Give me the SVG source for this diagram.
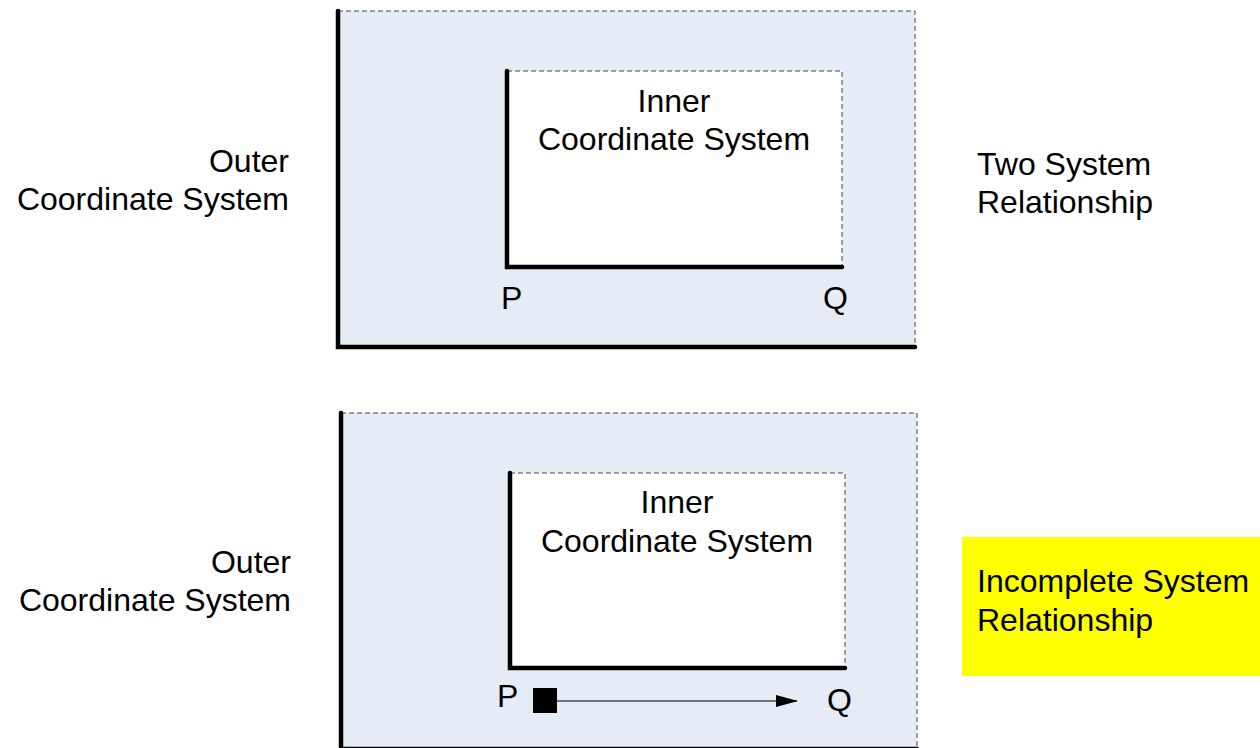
<svg xmlns="http://www.w3.org/2000/svg" width="1260" height="748" viewBox="0 0 1260 748">
<style>
.bg{fill:#e5ecf6;stroke:none}
.in{fill:#ffffff;stroke:none}
.dash{fill:none;stroke:#444;stroke-width:1;stroke-dasharray:5 3}
.axis{fill:none;stroke:#000;stroke-width:4.5;stroke-linecap:round;stroke-linejoin:miter}
.t{font-family:"Liberation Sans",Arial,sans-serif;font-size:32px;fill:#000}
</style>
<defs>
<marker id="arr" markerWidth="22" markerHeight="12" refX="21" refY="6" orient="auto" markerUnits="userSpaceOnUse">
<path d="M0,0 L22,6 L0,12 Z" fill="#000"/>
</marker>
</defs>
<g id="top-outer">
<rect class="bg" x="338" y="11" width="577" height="336"/>
<path class="dash" d="M338,11 H915 V347"/>
<path class="axis" d="M338,11 V347 H915"/>
<text class="t" x="289" y="172" text-anchor="end">Outer</text>
<text class="t" x="289" y="210" text-anchor="end">Coordinate System</text>
</g>
<g id="top-inner">
<rect class="in" x="507" y="71" width="335" height="196"/>
<path class="dash" d="M507,71 H842 V267"/>
<path class="axis" d="M507,71 V267 H842"/>
<text class="t" x="674" y="112" text-anchor="middle">Inner</text>
<text class="t" x="674" y="150" text-anchor="middle">Coordinate System</text>
</g>
<g id="top-P"><text class="t" x="501" y="309">P</text></g>
<g id="top-Q"><text class="t" x="823" y="309">Q</text></g>
<g id="top-label">
<text class="t" x="977" y="175">Two System</text>
<text class="t" x="977" y="213">Relationship</text>
</g>
<g id="bottom-outer">
<rect class="bg" x="341" y="413" width="576" height="335"/>
<path class="dash" d="M341,413 H917 V748"/>
<path class="axis" d="M341,413 V749 H917"/>
<text class="t" x="291" y="573" text-anchor="end">Outer</text>
<text class="t" x="291" y="611" text-anchor="end">Coordinate System</text>
</g>
<g id="bottom-inner">
<rect class="in" x="510" y="473" width="335" height="195"/>
<path class="dash" d="M510,473 H845 V668"/>
<path class="axis" d="M510,473 V668 H845"/>
<text class="t" x="677" y="513" text-anchor="middle">Inner</text>
<text class="t" x="677" y="552" text-anchor="middle">Coordinate System</text>
</g>
<g id="bottom-P"><text class="t" x="497" y="707">P</text></g>
<g id="bottom-square"><rect x="533" y="688" width="24" height="25" fill="#000"/></g>
<g id="bottom-Q"><text class="t" x="827" y="711">Q</text></g>
<g id="connectors">
<line x1="557" y1="701" x2="797" y2="701" stroke="#000" stroke-width="1.2" marker-end="url(#arr)"/>
</g>
<g id="bottom-label">
<rect x="962" y="537" width="298" height="139" fill="#ffff00"/>
<text class="t" x="977" y="592">Incomplete System</text>
<text class="t" x="977" y="631">Relationship</text>
</g>
</svg>
